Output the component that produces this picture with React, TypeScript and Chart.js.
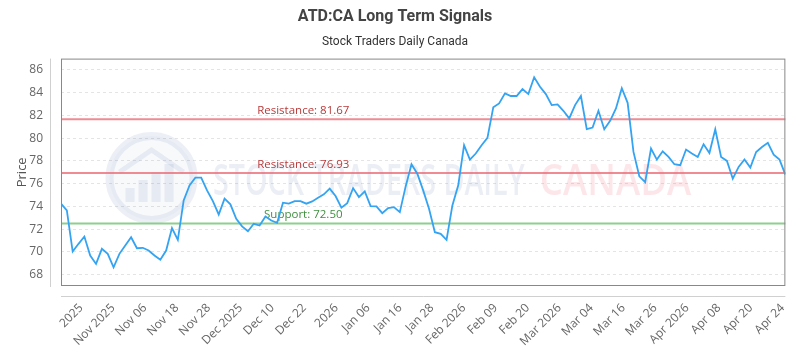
import { useEffect, useRef } from "react";
import { Chart, registerables } from "chart.js";

Chart.register(...registerables);

const prices: number[] = [
  74.24, 73.65, 70.03, 70.71, 71.35, 69.68, 68.94, 70.27, 69.83, 68.64,
  69.83, 70.56, 71.29, 70.32, 70.36, 70.12, 69.68, 69.32, 70.12, 72.09,
  71.06, 74.53, 75.85, 76.53, 76.53, 75.41, 74.47, 73.29, 74.68, 74.18,
  72.91, 72.24, 71.82, 72.47, 72.32, 73.12, 72.76, 72.56, 74.33, 74.24,
  74.47, 74.47, 74.24, 74.44, 74.76, 75.06, 75.56, 74.91, 73.89, 74.29,
  75.61, 74.82, 75.32, 74.03, 74.0, 73.41, 73.85, 73.94, 73.5, 75.76,
  77.71, 76.88, 75.41, 73.79, 71.73, 71.59, 71.06, 74.09, 75.85, 79.38,
  78.12, 78.65, 79.38, 80.03, 82.71, 83.06, 83.94, 83.71, 83.71, 84.32,
  83.88, 85.36, 84.53, 83.88, 82.91, 82.97, 82.41, 81.74, 82.91, 83.71,
  80.79, 80.94, 82.41, 80.79, 81.53, 82.62, 84.39, 83.11, 78.79, 76.65,
  76.14, 79.09, 78.12, 78.85, 78.35, 77.71, 77.62, 79.0, 78.65, 78.35,
  79.47, 78.7, 80.79, 78.35, 78.0, 76.44, 77.47, 78.12, 77.41, 78.79,
  79.23, 79.59, 78.56, 78.12, 76.8,
];

const xTickLabels: string[] = [
  "2025", "Nov 2025", "Nov 06", "Nov 18", "Nov 28", "Dec 2025", "Dec 10",
  "Dec 22", "2026", "Jan 06", "Jan 16", "Jan 28", "Feb 2026", "Feb 09",
  "Feb 20", "Mar 2026", "Mar 04", "Mar 16", "Mar 26", "Apr 2026", "Apr 08",
  "Apr 20", "Apr 24",
];

const levelValues: number[] = [81.67, 76.93, 72.5];
const levelNames: string[] = ["Resistance", "Resistance", "Support"];

const yMin = 67;
const yMax = 87;
const yStep = 2;

const titleText = "ATD:CA Long Term Signals";
const subtitleText = "Stock Traders Daily Canada";

// tick placement in data-index units (evenly spread labels)
const FIRST_TICK = 3.46;
const TICK_STEP = 5.459;

const FONT = "'Open Sans', sans-serif";

const decorPlugin = {
  id: "decor",
  beforeDatasetsDraw(chart: any) {
    const { ctx, chartArea: a, scales } = chart;
    const W = a.right - a.left;
    const H = a.bottom - a.top;
    ctx.save();
    // watermark logo
    const cx = a.left + W * 0.125;
    const cy = a.top + H * 0.525;
    const r = 42;
    ctx.beginPath();
    ctx.arc(cx, cy, r, 0, Math.PI * 2);
    ctx.fillStyle = "rgba(110,135,185,0.05)";
    ctx.fill();
    ctx.lineWidth = 8;
    ctx.strokeStyle = "rgba(110,135,185,0.13)";
    ctx.stroke();
    ctx.fillStyle = "rgba(110,135,185,0.13)";
    const bw = 9;
    const bars = [14, 22, 30, 38];
    bars.forEach((h, i) => {
      const bx = cx - 26 + i * 13;
      ctx.fillRect(bx, cy + 24 - h, bw, h);
    });
    ctx.beginPath();
    ctx.moveTo(cx - 32, cy - 6);
    ctx.lineTo(cx, cy - 28);
    ctx.lineTo(cx + 32, cy - 6);
    ctx.lineWidth = 5;
    ctx.stroke();

    // watermark text
    const drawFit = (text: string, x0: number, x1: number, base: number, color: string) => {
      ctx.save();
      ctx.font = `600 44px ${FONT}`;
      const m = ctx.measureText(text).width;
      ctx.translate(x0, base);
      ctx.scale((x1 - x0) / m, 1);
      ctx.fillStyle = color;
      ctx.textAlign = "left";
      ctx.textBaseline = "alphabetic";
      ctx.fillText(text, 0, 0);
      ctx.restore();
    };
    drawFit("STOCK TRADERS DAILY", a.left + W * 0.21, a.left + W * 0.64, a.top + H * 0.6, "rgba(110,135,185,0.14)");
    drawFit("CANADA", a.left + W * 0.661, a.left + W * 0.87, a.top + H * 0.6, "rgba(240,90,110,0.15)");

    // grey outer axis lines
    ctx.strokeStyle = "#d0d0d0";
    ctx.lineWidth = 1;
    ctx.beginPath();
    ctx.moveTo(a.left - 10.5, a.top);
    ctx.lineTo(a.left - 10.5, a.bottom + 1);
    ctx.moveTo(a.left, a.bottom + 10.5);
    ctx.lineTo(a.right, a.bottom + 10.5);
    ctx.stroke();

    // levels
    const y = scales.y;
    levelValues.forEach((v, i) => {
      const py = y.getPixelForValue(v);
      const isSup = levelNames[i] === "Support";
      ctx.beginPath();
      ctx.moveTo(a.left, py);
      ctx.lineTo(a.right, py);
      ctx.lineWidth = 2;
      ctx.strokeStyle = isSup ? "rgba(120,200,120,0.85)" : "rgba(235,110,120,0.8)";
      ctx.stroke();
      ctx.font = `11.5px ${FONT}`;
      ctx.textAlign = "center";
      ctx.textBaseline = "alphabetic";
      ctx.fillStyle = isSup ? "#3f8f3f" : "#b83a3a";
      ctx.fillText(`${levelNames[i]}: ${v.toFixed(2)}`, a.left + W * 0.3345, py - 5);
    });
    ctx.restore();
  },
  afterDraw(chart: any) {
    const { ctx, chartArea: a } = chart;
    ctx.save();
    ctx.strokeStyle = "#888";
    ctx.lineWidth = 1;
    ctx.strokeRect(a.left + 0.5, a.top + 0.5, a.right - a.left - 1, a.bottom - a.top - 1);
    ctx.restore();
  },
};

export default function App() {
  const ref = useRef<HTMLCanvasElement | null>(null);
  useEffect(() => {
    if (!ref.current) return;
    const chart = new Chart(ref.current, {
      type: "line",
      data: {
        datasets: [
          {
            data: prices.map((p, i) => ({ x: i, y: p })),
            borderColor: "#33a3f2",
            borderWidth: 1.8,
            pointRadius: 0,
            tension: 0,
            fill: false,
          },
        ],
      },
      options: {
        animation: false,
        responsive: false,
        layout: { padding: { left: 0, right: 10, top: 0, bottom: 0 } },
        plugins: {
          legend: { display: false },
          tooltip: { enabled: false },
          title: {
            display: true,
            text: titleText,
            color: "#444",
            font: { size: 16, weight: "bold", family: "Roboto, sans-serif" },
            padding: { top: 7, bottom: 9 },
          },
          subtitle: {
            display: true,
            text: subtitleText,
            color: "#333",
            font: { size: 12, family: "Roboto, sans-serif" },
            padding: { top: 0, bottom: 9 },
          },
        },
        scales: {
          x: {
            type: "linear",
            min: 0,
            max: prices.length - 1,
            grid: { display: false },
            border: { display: false },
            afterBuildTicks: (scale: any) => {
              scale.ticks = xTickLabels.map((_, k) => ({ value: FIRST_TICK + k * TICK_STEP }));
            },
            afterFit: (scale: any) => {
              scale.height = 64;
            },
            ticks: {
              autoSkip: false,
              maxRotation: 45,
              minRotation: 45,
              padding: 7,
              color: "#666",
              font: { size: 12, family: FONT },
              callback: (_v: any, i: number) => xTickLabels[i] ?? "",
            },
          },
          y: {
            min: yMin,
            max: yMax,
            grid: { color: "#e4e4e4", drawTicks: false },
            border: { display: false, dash: [3, 3] },
            afterBuildTicks: (scale: any) => {
              const t = [];
              for (let v = yMin + 1; v < yMax; v += yStep) t.push({ value: v });
              scale.ticks = t;
            },
            afterFit: (scale: any) => {
              scale.width = 61;
            },
            title: {
              display: true,
              text: "Price",
              color: "#555",
              font: { size: 13, family: FONT },
              padding: { top: 14, bottom: 0 },
            },
            ticks: {
              padding: 18,
              color: "#666",
              font: { size: 12, family: FONT },
            },
          },
        },
      },
      plugins: [decorPlugin],
    } as any);
    return () => chart.destroy();
  }, []);
  return (
    <div style={{ position: "absolute", left: 0, top: 0, width: 800, height: 350, background: "#fff" }}>
      <canvas ref={ref} width={800} height={350} />
    </div>
  );
}
